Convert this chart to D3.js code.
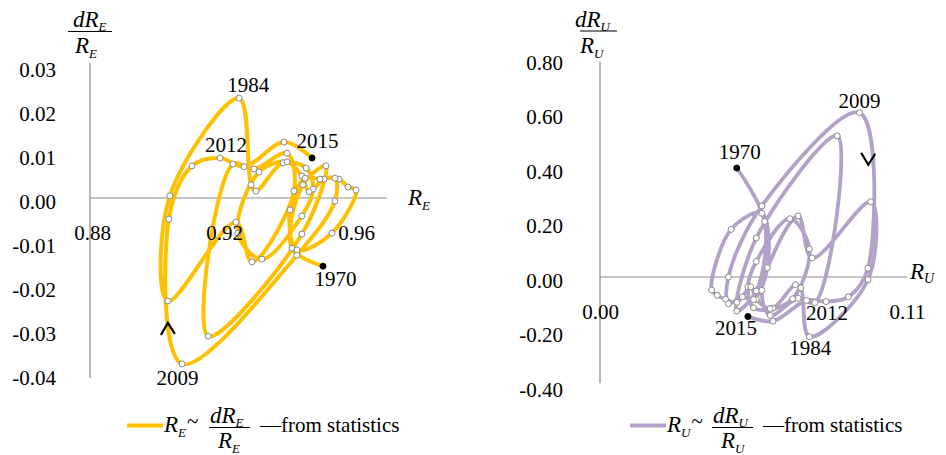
<!DOCTYPE html>
<html><head><meta charset="utf-8">
<script src="https://cdn.jsdelivr.net/npm/d3@7"></script>
<style>
body{margin:0;background:#fff;}
svg{display:block;}
</style></head><body>
<svg id="chart" width="946" height="455"></svg>
<script>
const years = [1970,1971,1972,1973,1974,1975,1976,1977,1978,1979,
  1980,1981,1982,1983,1984,1985,1986,1987,1988,1989,
  1990,1991,1992,1993,1994,1995,1996,1997,1998,1999,
  2000,2001,2002,2003,2004,2005,2006,2007,2008,2009,
  2010,2011,2012,2013,2014,2015];

// Left panel: R_E and dR_E/R_E
const empRate = [0.9506,0.9412,0.9445,0.9515,0.9442,0.9158,0.9233,0.9297,0.9397,0.9418,
  0.9291,0.9242,0.9036,0.9042,0.9252,0.9288,0.9303,0.9385,0.9455,0.9476,
  0.9442,0.9321,0.9248,0.9312,0.9397,0.9442,0.9464,0.9509,0.9555,0.9582,
  0.9606,0.9533,0.9427,0.9406,0.9452,0.9497,0.9542,0.9542,0.9427,0.9079,
  0.9039,0.9109,0.9194,0.9267,0.9388,0.9473];
const empGrowth = [-0.0155,-0.0114,0.0030,0.0073,-0.0082,-0.0314,0.0077,0.0066,0.0102,0.0016,
  -0.0145,-0.0055,-0.0234,0.0005,0.0227,0.0030,0.0016,0.0080,0.0068,0.0020,
  -0.0041,-0.0139,-0.0080,0.0059,0.0082,0.0050,0.0014,0.0043,0.0043,0.0025,
  0.0018,-0.0080,-0.0118,-0.0027,0.0045,0.0043,0.0045,-0.0007,-0.0130,-0.0377,
  -0.0048,0.0073,0.0091,0.0071,0.0127,0.0091];

// Right panel: R_U and dR_U/R_U
const unempRate = [0.049,0.059,0.056,0.049,0.056,0.085,0.077,0.071,0.061,0.058,
  0.071,0.076,0.097,0.096,0.075,0.072,0.070,0.062,0.055,0.053,
  0.056,0.068,0.075,0.069,0.061,0.056,0.054,0.049,0.045,0.042,
  0.040,0.047,0.058,0.060,0.055,0.051,0.046,0.046,0.058,0.093,
  0.096,0.089,0.081,0.074,0.062,0.053];
const unempGrowth = [0.400,0.204,-0.051,-0.125,0.143,0.518,-0.094,-0.078,-0.141,-0.049,
  0.224,0.070,0.276,-0.010,-0.219,-0.040,-0.028,-0.114,-0.113,-0.036,
  0.057,0.214,0.103,-0.080,-0.116,-0.082,-0.036,-0.093,-0.082,-0.067,
  -0.048,0.175,0.234,0.034,-0.083,-0.073,-0.098,0.000,0.261,0.603,
  0.032,-0.073,-0.090,-0.086,-0.162,-0.145];

const leftXTicks = [0.88,0.92,0.96];
const leftYTicks = [0.03,0.02,0.01,0.00,-0.01,-0.02,-0.03,-0.04];
const rightXTicks = [0.00,0.11];
const rightYTicks = [0.80,0.60,0.40,0.20,0.00,-0.20,-0.40];
const labeledYears = [1970,1984,2009,2012,2015];
const legendText = "\u2014from statistics";

const FONT = "'Liberation Serif','Times New Roman',serif";
const svg = d3.select("#chart");
const fmt = v => d3.format(".2f")(v).replace("\u2212","-");

function panel(o){
  const g = svg.append("g");
  const x = d3.scaleLinear().domain(o.xDomain).range(o.xRange);
  const y = d3.scaleLinear().domain(o.yDomain).range(o.yRange);
  // axis lines (beneath the series)
  g.append("line").attr("x1",x(o.xDomain[0])).attr("x2",x(o.xDomain[1]))
    .attr("y1",y(0)).attr("y2",y(0)).attr("stroke","#8c8c8c").attr("stroke-width",1.2);
  g.append("line").attr("x1",x(o.xDomain[0])).attr("x2",x(o.xDomain[0]))
    .attr("y1",y(o.yLineTop)).attr("y2",y(o.yLineBottom))
    .attr("stroke","#8c8c8c").attr("stroke-width",1.2);

  const idx = d3.range(o.xs.length);
  const line = d3.line().x(i=>x(o.xs[i])).y(i=>y(o.ys[i])).curve(d3.curveCatmullRom.alpha(0.5));
  g.append("path").attr("d",line(idx)).attr("fill","none")
    .attr("stroke",o.color).attr("stroke-width",o.lw).attr("stroke-linejoin","round").attr("stroke-linecap","round");
  g.selectAll("circle.m").data(idx).join("circle")
    .attr("cx",i=>x(o.xs[i])).attr("cy",i=>y(o.ys[i]))
    .attr("r",3)
    .attr("fill",i=>(i===0||i===idx.length-1)?"#000":"#fff")
    .attr("stroke",i=>(i===0||i===idx.length-1)?"#000":"#8a8a8a")
    .attr("stroke-width",1);

  // tick labels (above the series)
  const xa = g.append("g").attr("transform",`translate(0,${y(0)})`)
    .call(d3.axisBottom(x).tickValues(o.xTicks).tickSize(0).tickPadding(o.xPad).tickFormat(fmt));
  xa.attr("font-family",FONT).attr("font-size",21);
  xa.select(".domain").remove();
  xa.selectAll("text").attr("fill","#000").attr("dx",o.xLabelDx||0);
  const ya = g.append("g").attr("transform",`translate(${x(o.xDomain[0])},0)`)
    .call(d3.axisLeft(y).tickValues(o.yTicks).tickSize(0).tickPadding(o.yPad).tickFormat(fmt));
  ya.attr("font-family",FONT).attr("font-size",21);
  ya.select(".domain").remove();
  ya.selectAll("text").attr("fill","#000").attr("dy","0.48em");

  labeledYears.forEach(yr=>{
    const i = years.indexOf(yr);
    const off = o.labelOff[yr];
    g.append("text").attr("x",x(o.xs[i])+off[0]).attr("y",y(o.ys[i])+off[1])
      .attr("text-anchor","middle").attr("font-family",FONT).attr("font-size",21).text(yr);
  });
  const ax = x(o.arrow[0]), ay = y(o.arrow[1]), s = o.arrow[2];
  g.append("path").attr("d",`M${ax-7},${ay+12*s} L${ax},${ay} L${ax+7},${ay+11*s}`)
    .attr("fill","none").attr("stroke","#000").attr("stroke-width",2.2);
  return {x,y};
}

function mathText(parent, xPos, yPos, parts){
  const t = parent.append("text").attr("x",xPos).attr("y",yPos).attr("font-family",FONT);
  parts.forEach(p=>{
    t.append("tspan").attr("font-size",p.size).attr("font-style",p.italic?"italic":"normal")
      .attr("dy",p.dy||0).attr("dx",p.dx||0).text(p.t);
  });
  return t;
}

function fraction(parent, nx, ny, barX1, barX2, barY, dx2, dy2, sub){
  mathText(parent,nx,ny,[{t:"dR",size:23,italic:true},{t:sub,size:13,italic:true,dy:4}]);
  parent.append("line").attr("x1",barX1).attr("x2",barX2).attr("y1",barY).attr("y2",barY)
    .attr("stroke","#000").attr("stroke-width",1.2);
  mathText(parent,dx2,dy2,[{t:"R",size:23,italic:true},{t:sub,size:13,italic:true,dy:5}]);
}

function legend(ox, color, lw, sub){
  const g = svg.append("g");
  g.append("line").attr("x1",127+ox).attr("x2",163+ox).attr("y1",425.5).attr("y2",425.5)
    .attr("stroke",color).attr("stroke-width",lw);
  mathText(g,164+ox,432,[{t:"R",size:23,italic:true},{t:sub,size:13,italic:true,dy:5},{t:"~",size:21,dy:-9,dx:1}]);
  fraction(g,210+ox,423,209+ox,250+ox,427.5,218+ox,448,sub);
  g.append("text").attr("x",260+ox).attr("y",432).attr("font-family",FONT).attr("font-size",21).text(legendText);
}

panel({
  xs:empRate, ys:empGrowth, xDomain:[0.88,0.97], xRange:[90,387],
  yDomain:[-0.04,0.03], yRange:[374,66], yLineTop:0.0307, yLineBottom:-0.0409,
  xTicks:leftXTicks, yTicks:leftYTicks, xPad:26.6, yPad:34, xLabelDx:2,
  color:"#FFC000", lw:4,
  labelOff:{1984:[9,-6],2012:[6,-6],2015:[5.5,-10],1970:[12.5,20],2009:[-4.5,21]},
  arrow:[0.9036,-0.0284,1]
});
panel({
  xs:unempRate, ys:unempGrowth, xDomain:[0,0.11], xRange:[600,907],
  yDomain:[-0.4,0.8], yRange:[386,59], yLineTop:0.79, yLineBottom:-0.39,
  xTicks:rightXTicks, yTicks:rightYTicks, xPad:27, yPad:37,
  color:"#B3A2C7", lw:3.8,
  labelOff:{2009:[0,-5],1970:[3,-9],2015:[-12,18],2012:[1,18.5],1984:[1,18]},
  arrow:[0.0961,0.412,-1]
});

const titles = svg.append("g");
fraction(titles,73,27,68,112,31.5,75,53,"E");
fraction(titles,575,27,580,617,31,580,53,"U");
mathText(titles,408,205,[{t:"R",size:23,italic:true},{t:"E",size:13,italic:true,dy:5}]);
mathText(titles,910,279,[{t:"R",size:23,italic:true},{t:"U",size:14,italic:true,dy:4}]);

legend(0,"#FFC000",4,"E");
legend(503,"#B3A2C7",4,"U");
</script>
</body></html>
